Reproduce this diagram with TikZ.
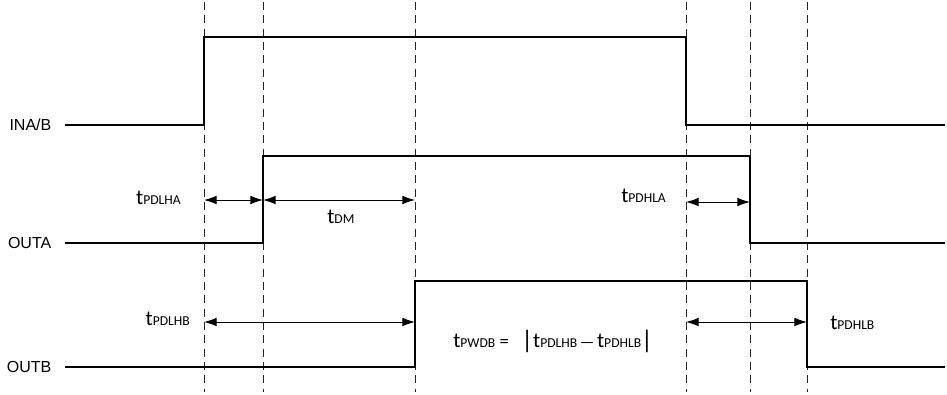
\documentclass[tikz,border=0pt]{standalone}
\usepackage{fontspec}
\setmainfont{Carlito}
\newfontfamily\arialfont{Liberation Sans}
\usetikzlibrary{arrows.meta}
\newcommand{\tname}[1]{{\fontsize{16}{19}\selectfont t}{\fontsize{10.2}{12}\selectfont #1}}

\begin{document}
\begin{tikzpicture}[x=0.75pt, y=-0.75pt,
  sig/.style={line width=1.9pt},
  guide/.style={line width=0.6pt, dash pattern=on 6pt off 4pt, black!85},
  span/.style={line width=0.7pt, {Latex[length=9.5pt, width=6.5pt]}-{Latex[length=9.5pt, width=6.5pt]}},
  sname/.style={font=\arialfont\fontsize{12}{14}\selectfont, anchor=east}]
\useasboundingbox (0,0) rectangle (947,394);

% guides

\foreach \x/\n in {204/1, 263/2, 415/3, 686/4, 750/5, 807/6} {
  \coordinate (g\n) at (\x, 2);
  \coordinate (h\n) at (\x, 392);
  \draw[guide] (g\n) -- (h\n);
}

% INA/B

\coordinate (A0) at (65, 125);
\coordinate (A1) at (204, 125);
\coordinate (A2) at (204, 37);
\coordinate (A3) at (686, 37);
\coordinate (A4) at (686, 125);
\coordinate (A5) at (945, 125);
\draw[sig] (A0) -- (A1) -- (A2) -- (A3) -- (A4) -- (A5);
\node[sname] (inab) at (56, 125) {INA/B};

% OUTA

\coordinate (B0) at (65, 243);
\coordinate (B1) at (263, 243);
\coordinate (B2) at (263, 156);
\coordinate (B3) at (750, 156);
\coordinate (B4) at (750, 243);
\coordinate (B5) at (945, 243);
\draw[sig] (B0) -- (B1) -- (B2) -- (B3) -- (B4) -- (B5);
\node[sname] (outa) at (56, 243) {OUTA};

% OUTB

\coordinate (C0) at (65, 367);
\coordinate (C1) at (415, 367);
\coordinate (C2) at (415, 281);
\coordinate (C3) at (807, 281);
\coordinate (C4) at (807, 367);
\coordinate (C5) at (945, 367);
\draw[sig] (C0) -- (C1) -- (C2) -- (C3) -- (C4) -- (C5);
\node[sname] (outb) at (56, 367) {OUTB};

% delays

\coordinate (P1) at (204, 200);
\coordinate (P2) at (263, 200);
\coordinate (P3) at (415, 200);
\coordinate (P4) at (686, 202);
\coordinate (P5) at (750, 202);
\draw[span] (P1) -- (P2);
\draw[span] (P2) -- (P3);
\draw[span] (P4) -- (P5);

\coordinate (Q1) at (204, 322);
\coordinate (Q3) at (415, 322);
\coordinate (Q4) at (686, 322);
\coordinate (Q6) at (807, 322);
\draw[span] (Q1) -- (Q3);
\draw[span] (Q4) -- (Q6);

\node[anchor=base east, inner sep=0pt] (tpdlha) at (181, 204) {\tname{PDLHA}};
\node[anchor=base west, inner sep=0pt] (tdm) at (327, 223) {\tname{DM}};
\node[anchor=base west, inner sep=0pt] (tpdhla) at (621, 202) {\tname{PDHLA}};
\node[anchor=base east, inner sep=0pt] (tpdlhb) at (190, 325) {\tname{PDLHB}};
\node[anchor=base west, inner sep=0pt] (tpwdb) at (453, 347)
  {\tname{PWDB}{\fontsize{14}{16}\selectfont\ =\ \ \ \raisebox{-1pt}{\fontsize{19}{20}\selectfont|}}\tname{PDLHB}%
   {\fontsize{12}{14}\selectfont\,\textemdash\,}\tname{PDHLB}{\fontsize{19}{20}\selectfont\raisebox{-1pt}{|}}};
\node[anchor=base west, inner sep=0pt] (tpdhlb) at (830, 329) {\tname{PDHLB}};

\end{tikzpicture}
\end{document}
